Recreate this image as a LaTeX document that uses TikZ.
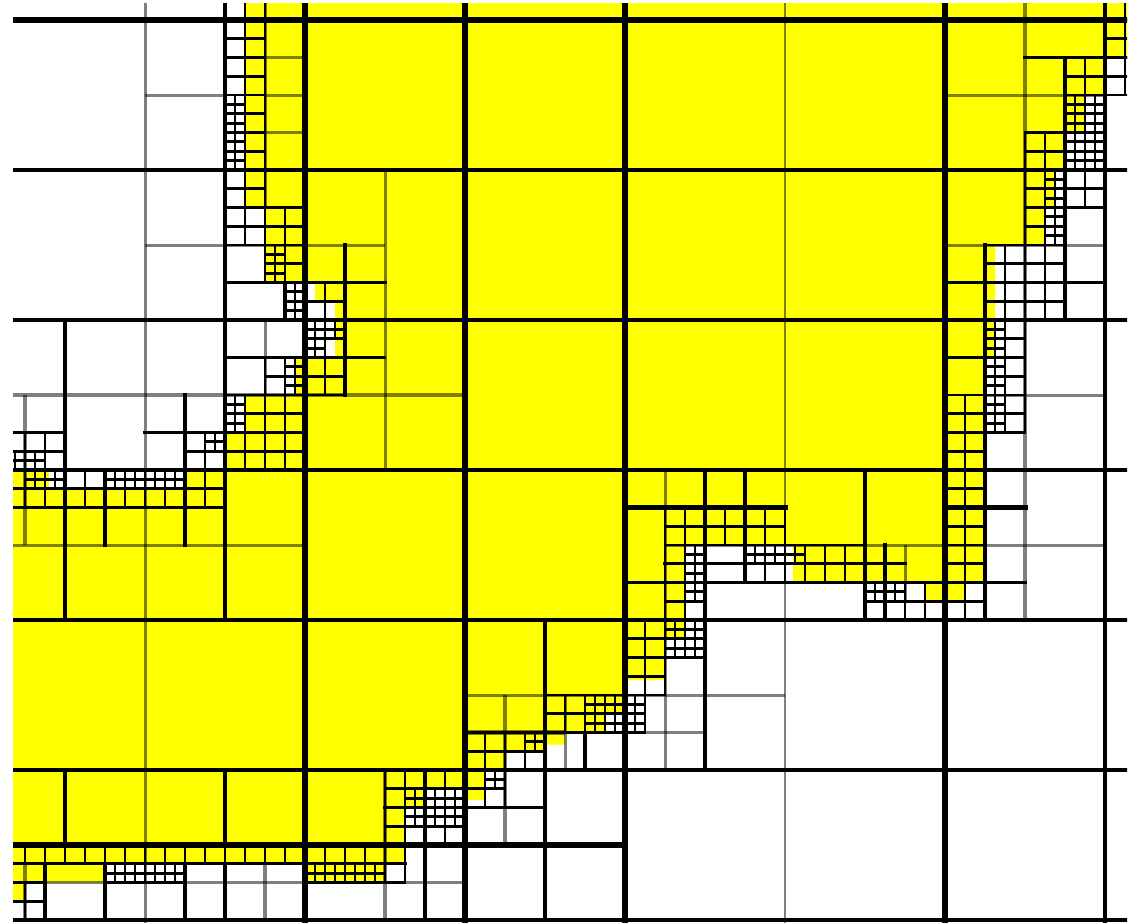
\documentclass[tikz,border=0pt]{standalone}
\usepackage{xcolor}
\definecolor{blobYellow}{HTML}{FFFF00}
\tikzset{
  thickline/.style={line width=5.4pt, line cap=rect},
  blackline/.style={line width=3.4pt, line cap=rect},
  cellline/.style={line width=2.9pt, line cap=rect},
  grayline/.style={line width=3pt, draw opacity=.5},
  widegray/.style={line width=4.6pt, draw opacity=.5},
}
% quadtree cells: [style]{x1}{y1}{x2}{y2}{step}
\newcommand{\quadcells}[6][cellline]{%
  \pgfmathtruncatemacro\nx{round(((#4)-(#2))/(#6))}%
  \pgfmathtruncatemacro\ny{round(((#5)-(#3))/(#6))}%
  \foreach \i in {0,...,\nx} \draw[#1] ({#2+\i*#6},#3) -- ({#2+\i*#6},#5);%
  \foreach \j in {0,...,\ny} \draw[#1] (#2,{#3+\j*#6}) -- (#4,{#3+\j*#6});%
}
\begin{document}
\begin{tikzpicture}[x=160pt, y=-150pt]
    \useasboundingbox (0.09375,-0.13333) rectangle (7.20625,6.01333);
    \fill[white] (0.09375,-0.13333) rectangle (7.20625,6.01333);
    \clip (0.175,-0.107) rectangle (7.1375,6.0133);

    % the yellow region
    \fill[blobYellow] (1.625,-0.25) -- (7.25,-0.25) -- (7.25,0.25) -- (7,0.25) -- (7,0.5)
        -- (6.875,0.5) -- (6.875,0.75) -- (6.75,0.75) -- (6.75,1) -- (6.6875,1) -- (6.6875,1.25)
        -- (6.625,1.25) -- (6.625,1.5) -- (6.3125,1.5) -- (6.3125,2.25) -- (6.25,2.25)
        -- (6.25,3.75) -- (6.125,3.75) -- (6.125,3.875) -- (5.875,3.875) -- (5.875,3.75)
        -- (5.05,3.75) -- (5.05,3.5) -- (4.375,3.5) -- (4.375,4.125) -- (4.25,4.125)
        -- (4.25,4.4) -- (4,4.4) -- (4,4.625) -- (3.875,4.625) -- (3.875,4.75) -- (3.625,4.75)
        -- (3.625,4.83) -- (3.5,4.83) -- (3.5,4.875) -- (3.25,4.875) -- (3.25,5) -- (3.125,5)
        -- (3.125,5.2) -- (3,5.2) -- (3,5.125) -- (2.75,5.125) -- (2.75,5.25) -- (2.625,5.25)
        -- (2.625,5.625) -- (2.5,5.625) -- (2.5,5.75) -- (2,5.75) -- (2,5.625) -- (0.75,5.625)
        -- (0.75,5.75) -- (0.25,5.75) -- (0.25,5.875) -- (0,5.875) -- (0,3) -- (0.4,3)
        -- (0.4,3.125) -- (1.25,3.125) -- (1.25,3) -- (1.5,3) -- (1.5,2.75) -- (1.625,2.75)
        -- (1.625,2.5) -- (1.9375,2.5) -- (1.9375,2.25) -- (2.1875,2.25) -- (2.1875,1.875)
        -- (2.0625,1.875) -- (2.0625,1.75) -- (1.75,1.75) -- (1.75,1.25) -- (1.625,1.25) -- cycle;

    % main grid
    \foreach \row in {1,...,6}
        \draw[blackline] (0,\row) -- (7.25,\row);
    \draw[thickline] (0,0) -- (7.25,0);
    \foreach \col in {2,3,4,6}
        \draw[thickline] (\col,-0.25) -- (\col,6.1);
    \draw[blackline] (7,-0.25) -- (7,6.1);
    \draw[grayline] (1,-0.25) -- (1,6.1);
    \draw[grayline, line width=2.4pt] (5,-0.25) -- (5,6.1);

    % left part
    \draw[grayline] (1,0.5) -- (1.5,0.5);
    \draw[grayline] (1,1.5) -- (2.5,1.5);
    \draw[blackline] (1.5,-0.25) -- (1.5,4);
    \draw[blackline] (1.5,5) -- (1.5,5.5);
    \draw[blackline] (0.5,2) -- (0.5,4);
    \draw[blackline] (0.5,5) -- (0.5,5.5);
    \draw[widegray] (0,2.5) -- (3,2.5);
    \draw[blackline] (0,2.75) -- (0.5,2.75);
    \draw[blackline] (1,2.75) -- (2,2.75);
    \draw[widegray] (0.25,2.5) -- (0.25,3.5);
    \draw[blackline] (1.25,2.5) -- (1.25,3.5);
    \draw[blackline] (0,3.25) -- (1.5,3.25);
    \draw[grayline] (0,3.5) -- (2,3.5);
    \draw[blackline] (0.75,3) -- (0.75,3.5);
    \draw[blackline] (0.4,3.125) -- (1.25,3.125);
    \quadcells{0}{2.75}{0.5}{3}{0.125}
    \quadcells{0}{2.875}{0.375}{3}{0.0625}
    \quadcells{0}{3}{1.5}{3.25}{0.125}
    \quadcells{0.25}{3}{0.5}{3.125}{0.0625}
    \quadcells{0.75}{3}{1.25}{3.125}{0.0625}
    \quadcells{1.25}{2.75}{1.5}{3}{0.125}
    \quadcells{1.375}{2.75}{1.5}{2.875}{0.0625}
    \quadcells{1.5}{2.5}{2}{3}{0.125}
    \quadcells{1.5}{2.5}{1.625}{2.75}{0.0625}

    % upper left strip
    \quadcells{1.5}{-0.25}{1.75}{1.5}{0.125}
    \quadcells[grayline]{1.75}{-0.25}{2}{1.25}{0.25}
    \quadcells{1.5}{0.5}{1.625}{1}{0.0625}
    \quadcells{1.75}{1.25}{2}{1.75}{0.125}
    \quadcells{1.75}{1.5}{1.875}{1.75}{0.0625}
    \draw[blackline] (1.875,1.75) -- (1.875,2);
    \quadcells{1.875}{1.75}{2}{2}{0.0625}
    \draw[grayline] (1.75,2) -- (1.75,2.5);
    \draw[blackline] (1.5,2.25) -- (2,2.25);
    \quadcells{1.75}{2.25}{2}{2.5}{0.125}
    \quadcells{1.875}{2.25}{2}{2.5}{0.0625}

    % notch
    \draw[grayline] (2.5,1) -- (2.5,3);
    \draw[blackline] (2.25,1.5) -- (2.25,2.5);
    \draw[blackline] (1.5,1.75) -- (2.5,1.75);
    \draw[cellline] (2,2.25) -- (2.5,2.25);
    \quadcells{2}{1.75}{2.25}{2.5}{0.125}
    \quadcells{2}{2}{2.125}{2.25}{0.0625}
    \quadcells{2.125}{2}{2.25}{2.125}{0.0625}

    % lower left
    \quadcells{0}{5.5}{2}{5.625}{0.125}
    \draw[blackline] (0,5.625) -- (2.625,5.625);
    \draw[grayline] (0,5.75) -- (3,5.75);
    \foreach \col in {0.375,0.75,1.25,1.5}
        \draw[blackline] (\col,5.625) -- (\col,6);
    \foreach \col in {0.25,1.75}
        \draw[widegray] (\col,5.625) -- (\col,6);
    \quadcells{0.75}{5.625}{1.25}{5.75}{0.0625}
    \quadcells{0}{5.75}{0.375}{6}{0.125}
    \draw[thickline] (0,5.5) -- (4,5.5);

    % lower middle
    \draw[widegray] (2.5,5) -- (2.5,6);
    \draw[blackline] (2.75,5) -- (2.75,6);
    \draw[blackline] (3.5,4) -- (3.5,6);
    \draw[blackline] (2.5,5.25) -- (3.5,5.25);
    \quadcells{2.5}{5}{3}{5.5}{0.125}
    \quadcells{2.625}{5.125}{3}{5.375}{0.0625}
    \quadcells{2}{5.5}{2.625}{5.75}{0.125}
    \quadcells{2}{5.625}{2.5}{5.75}{0.0625}
    \draw[grayline] (3,4.5) -- (5,4.5);
    \draw[widegray] (3,4.75) -- (3.625,4.75);
    \draw[grayline] (4,4.75) -- (4.5,4.75);
    \draw[widegray] (3.25,4.5) -- (3.25,5.5);
    \quadcells{3}{4.75}{3.5}{5}{0.125}
    \quadcells{3}{5}{3.25}{5.25}{0.125}
    \quadcells{3.375}{4.75}{3.5}{4.875}{0.0625}
    \quadcells{3.125}{5}{3.25}{5.125}{0.0625}
    \quadcells{3.5}{4.5}{4}{4.75}{0.125}
    \quadcells{3.75}{4.5}{4}{4.75}{0.0625}
    \draw[grayline] (3.625,4.5) -- (3.625,5);
    \draw[blackline] (3.75,4.75) -- (3.75,5);
    \quadcells{4}{4}{4.25}{4.5}{0.125}
    \quadcells{4.25}{4}{4.5}{4.25}{0.0625}
    \quadcells{4}{4.5}{4.125}{4.75}{0.0625}
    \draw[blackline] (4.5,3) -- (4.5,5);
    \draw[grayline] (4.25,3) -- (4.25,5);

    % lower edge of the right part
    \draw[thickline] (4,3.25) -- (5,3.25);
    \draw[blackline] (4.75,3) -- (4.75,3.75);
    \draw[blackline] (5.5,3) -- (5.5,4);
    \quadcells{4.25}{3.25}{4.5}{4}{0.125}
    \quadcells{4.5}{3.25}{5}{3.5}{0.125}
    \quadcells{4.375}{3.5}{4.5}{3.875}{0.0625}
    \draw[grayline] (4.25,3.5) -- (7,3.5);
    \draw[blackline] (4.25,3.625) -- (5.75,3.625);
    \draw[blackline] (4,3.75) -- (6.5,3.75);
    \quadcells{4.75}{3.5}{5.5}{3.75}{0.125}
    \quadcells{4.75}{3.5}{5.125}{3.625}{0.0625}
    \quadcells{5.5}{3.75}{5.75}{3.875}{0.0625}
    \quadcells{5.75}{3.75}{6.25}{4}{0.125}
    \draw[blackline] (5.625,3.5) -- (5.625,4);
    \draw[grayline] (5.75,3.5) -- (5.75,3.875);

    % right part
    \draw[widegray] (6.5,-0.25) -- (6.5,4);
    \draw[blackline] (6.75,0.25) -- (6.75,2);
    \draw[grayline] (6,0.5) -- (7,0.5);
    \draw[blackline] (6.5,0.25) -- (7.25,0.25);
    \quadcells{7}{-0.25}{7.25}{0.5}{0.125}
    \quadcells{6.75}{0.25}{7}{1.25}{0.125}
    \quadcells{6.75}{0.5}{7}{1}{0.0625}
    \quadcells{6.5}{0.75}{6.75}{1.5}{0.125}
    \quadcells{6.625}{1}{6.75}{1.5}{0.0625}
    \draw[grayline] (6,1.5) -- (7,1.5);
    \draw[blackline] (6,1.75) -- (7,1.75);
    \draw[blackline] (6.25,1.5) -- (6.25,4);
    \quadcells{6.25}{1.5}{6.75}{2}{0.125}
    \quadcells{6}{2}{6.25}{2.5}{0.25}
    \quadcells{6}{2.5}{6.25}{3.75}{0.125}
    \quadcells{6.25}{2}{6.375}{2.75}{0.0625}
    \quadcells{6.375}{2}{6.5}{2.75}{0.125}
    \draw[grayline] (6.25,2.5) -- (7,2.5);
    \draw[thickline] (6,3.25) -- (6.5,3.25);
\end{tikzpicture}
\end{document}
